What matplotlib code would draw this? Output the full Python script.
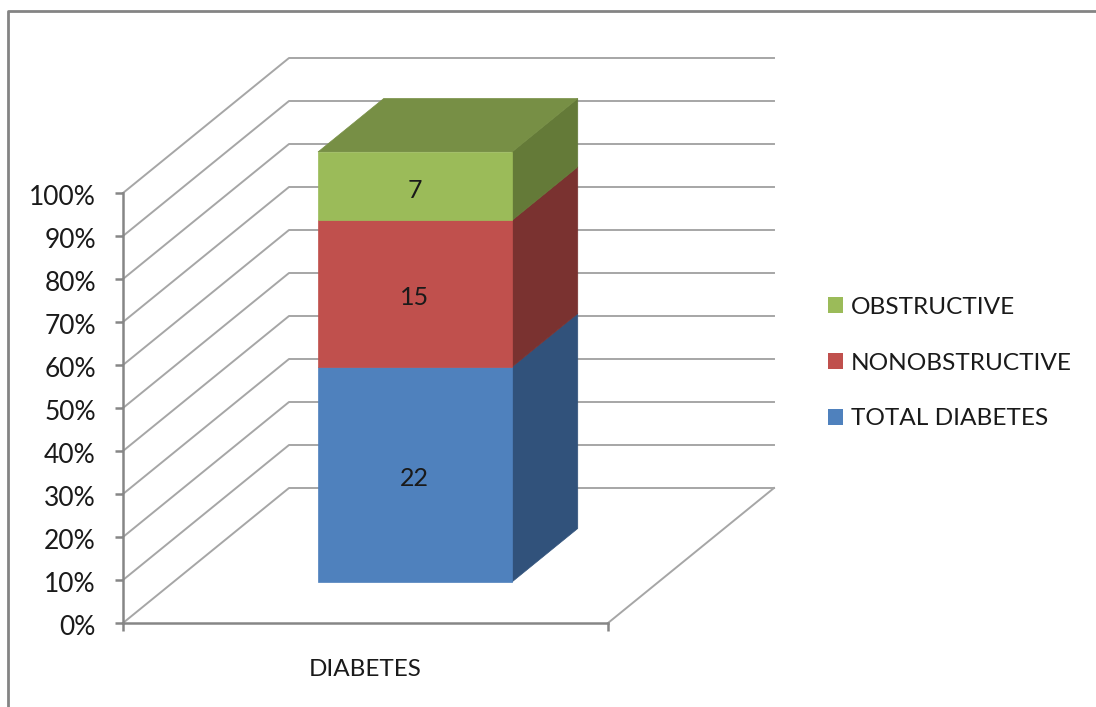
import matplotlib.pyplot as plt
from matplotlib.lines import Line2D
from matplotlib.patches import Patch
from matplotlib.transforms import ScaledTranslation

category = "DIABETES"
series_names = ["TOTAL DIABETES", "NONOBSTRUCTIVE", "OBSTRUCTIVE"]
series_values = [22, 15, 7]
y_ticks = [0, 10, 20, 30, 40, 50, 60, 70, 80, 90, 100]

front_colors = ["#4F81BD", "#C0504D", "#9BBB59"]
side_colors = ["#31527B", "#7A3230", "#647A38"]
top_color = "#778F45"
grid_color = "#A6A6A6"
axis_color = "#868686"
text_color = "#1A1A1A"

W, H = 1096, 707
DEPTH_X = 166 / 485  # one full depth step, in axis units
DEPTH_Y = 135 / 4.3

plt.rcParams["font.family"] = ["Lato", "DejaVu Sans"]

fig = plt.figure(figsize=(W / 100, H / 100), dpi=100)
ax = fig.add_axes([123 / W, 1 - 623 / H, 485 / W, 430 / H])
ax.set_xlim(0, 1)
ax.set_ylim(0, 100)
ax.patch.set_visible(False)


def project(x, y, d):
    return x + DEPTH_X * d, y + DEPTH_Y * d


def face(points, color, z):
    xs, ys = zip(*[project(*p) for p in points])
    ax.fill(xs, ys, color=color, lw=0.5, clip_on=False, zorder=z)


# back wall and floor lines
for t in y_ticks:
    xs, ys = zip(project(0, t, 0), project(0, t, 1), project(1, t, 1))
    ax.plot(xs, ys, color=grid_color, lw=1.4, clip_on=False, zorder=1)
xs, ys = zip(project(1, 0, 0), project(1, 0, 1))
ax.plot(xs, ys, color=grid_color, lw=1.4, clip_on=False, zorder=1)

# stacked block
x0, x1 = 0.298, 0.698
d0, d1 = 0.304, 0.70
total = sum(series_values)
bottom = 0
for i, v in enumerate(series_values):
    top = bottom + v / total * 100
    face([(x1, bottom, d0), (x1, bottom, d1), (x1, top, d1), (x1, top, d0)], side_colors[i], 3)
    face([(x0, bottom, d0), (x1, bottom, d0), (x1, top, d0), (x0, top, d0)], front_colors[i], 4)
    lx, ly = project(0.5, (bottom + top) / 2, d0)
    ax.text(lx - 0.003, ly - 0.9, str(v), ha="center", va="center", fontsize=18, color=text_color, zorder=5,
            clip_on=False)
    bottom = top
face([(x0, 100, d0), (x1, 100, d0), (x1, 100, d1), (x0, 100, d1)], top_color, 3)

# axes
for s in ["top", "right"]:
    ax.spines[s].set_visible(False)
for s in ["left", "bottom"]:
    ax.spines[s].set_color(axis_color)
    ax.spines[s].set_linewidth(1.8)
    ax.spines[s].set_zorder(2)
ax.set_yticks(y_ticks)
ax.set_yticklabels([f"{t}%" for t in y_ticks])
ax.set_xticks([0, 1])
ax.set_xticklabels(["", ""])
ax.tick_params(axis="both", color=axis_color, width=1.8, length=5.5, labelcolor=text_color)
ax.tick_params(axis="y", labelsize=19, pad=14)
nudge = ScaledTranslation(0, -2 / 100, fig.dpi_scale_trans)
for lab in ax.get_yticklabels():
    lab.set_transform(lab.get_transform() + nudge)
ax.text(0.5, -46 / 4.3, category, ha="center", va="center", fontsize=17.5, color=text_color, clip_on=False)

handles = [Patch(facecolor=front_colors[i], edgecolor="none", label=series_names[i]) for i in [2, 1, 0]]
fig.legend(handles=handles, loc="center left", bbox_to_anchor=(828 / W, 1 - 363 / H), frameon=False, fontsize=17.6,
           handlelength=0.615, handleheight=0.615, labelspacing=1.43, handletextpad=0.32, labelcolor=text_color,
           borderpad=0, borderaxespad=0)

# chart border, runs off the right and bottom of the picture
fig.add_artist(Line2D([8 / W, 8 / W, 1], [0, 1 - 11 / H, 1 - 11 / H], color="#848484", lw=2))

fig.savefig("out.png", dpi=100)
